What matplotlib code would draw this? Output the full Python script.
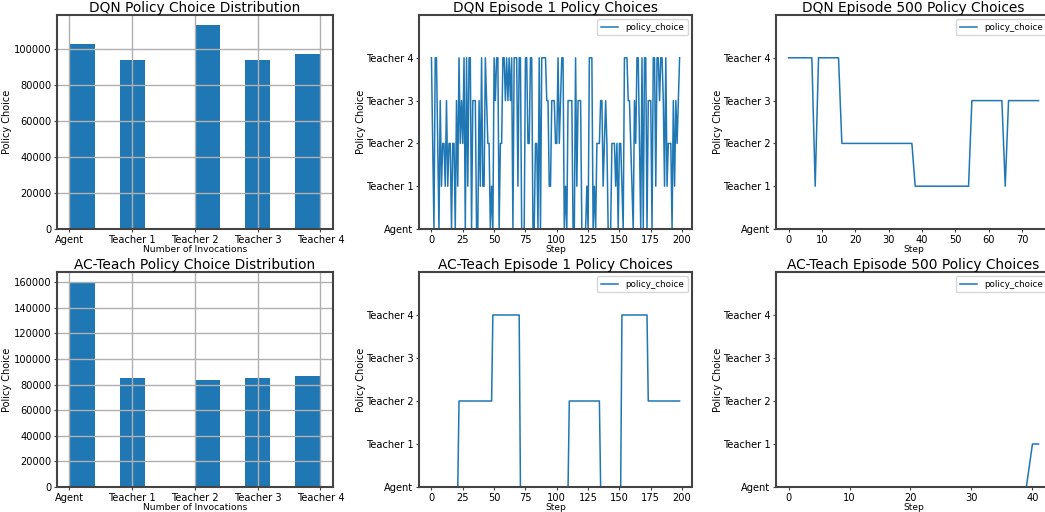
import numpy as np
import matplotlib
matplotlib.use('Agg')
from matplotlib import pyplot as plt
from matplotlib.ticker import MultipleLocator

policies = ['Agent', 'Teacher 1', 'Teacher 2', 'Teacher 3', 'Teacher 4']

# number of invocations of each policy over training
dqn_counts = [102600, 93700, 113100, 93700, 97000]
ac_counts = [160000, 85200, 83700, 85200, 86800]

# policy choice per step (0 = Agent, 1..4 = Teacher 1..4)
dqn_ep1 = [4, 2, 0, 4, 4, 2, 0, 3, 1, 2, 2, 1, 3, 1, 2, 2, 0, 2, 2, 0,
           3, 1, 4, 2, 3, 2, 4, 0, 4, 1, 4, 4, 0, 3, 3, 3, 0, 0, 3, 1,
           4, 1, 1, 4, 3, 2, 2, 0, 1, 0, 4, 3, 4, 4, 0, 2, 2, 4, 4, 3,
           4, 3, 4, 3, 4, 0, 4, 4, 4, 1, 4, 4, 0, 0, 0, 4, 4, 2, 2, 4,
           4, 0, 0, 2, 2, 0, 4, 0, 4, 4, 4, 4, 3, 3, 1, 1, 3, 3, 3, 2,
           2, 4, 2, 3, 4, 4, 0, 1, 0, 3, 3, 3, 3, 0, 0, 4, 1, 3, 3, 3,
           0, 0, 0, 0, 1, 0, 4, 4, 4, 0, 1, 0, 2, 2, 2, 3, 3, 1, 2, 3,
           2, 0, 0, 0, 2, 2, 2, 1, 2, 0, 2, 2, 1, 0, 4, 4, 4, 3, 3, 2,
           1, 0, 3, 2, 4, 4, 2, 0, 4, 0, 4, 4, 0, 3, 3, 3, 0, 4, 4, 1,
           4, 4, 3, 4, 4, 3, 1, 4, 1, 2, 2, 2, 0, 3, 1, 3, 2, 3, 4]
dqn_ep500 = [4, 4, 4, 4, 4, 4, 4, 4, 1, 4, 4, 4, 4, 4, 4, 4, 2, 2, 2, 2,
             2, 2, 2, 2, 2, 2, 2, 2, 2, 2, 2, 2, 2, 2, 2, 2, 2, 2, 1, 1,
             1, 1, 1, 1, 1, 1, 1, 1, 1, 1, 1, 1, 1, 1, 1, 3, 3, 3, 3, 3,
             3, 3, 3, 3, 3, 1, 3, 3, 3, 3, 3, 3, 3, 3, 3, 3]
ac_ep1 = [0] * 22 + [2] * 27 + [4] * 22 + [0] * 39 + [2] * 25 + [0] * 17 + [4] * 21 + [2] * 26
ac_ep500 = [0] * 40 + [1, 1]

blue = '#1f77b4'
spine_c = '#444444'

fig = plt.figure(figsize=(10.45, 5.12), dpi=100)

col_left = [0.0545, 0.401, 0.7426]
col_w = [0.2641, 0.2612, 0.2632]
row_bottom = [0.5527, 0.0488]
row_h = [0.418, 0.42]


def style(ax):
    for s in ax.spines.values():
        s.set_color(spine_c)
        s.set_linewidth(1.5)
    ax.tick_params(labelsize=7.1, length=2.5, pad=1.5, color=spine_c)


def hist_panel(ax, counts, title):
    ax.hist(range(len(policies)), bins=10, range=(0, 4), weights=counts, color=blue)
    ax.grid(True, color='#b0b0b0', linewidth=1)
    ax.set_xticks(range(len(policies)))
    ax.set_xticklabels(policies)
    ax.set_title(title, fontsize=9.9, pad=1)
    ax.set_xlabel('Number of Invocations', fontsize=6.6, labelpad=0)
    ax.set_ylabel('Policy Choice', fontsize=7, labelpad=1)
    style(ax)


def line_panel(ax, choices, title, step_tick):
    ax.plot(range(len(choices)), choices, color=blue, linewidth=1.1, label='policy_choice')
    ax.set_ylim(0, 5)
    ax.set_yticks(range(len(policies)))
    ax.set_yticklabels(policies)
    ax.xaxis.set_major_locator(MultipleLocator(step_tick))
    ax.set_title(title, fontsize=9.9, pad=1)
    ax.set_xlabel('Step', fontsize=6.6, labelpad=0)
    ax.set_ylabel('Policy Choice', fontsize=7, labelpad=0)
    ax.legend(loc='upper right', fontsize=6.3)
    style(ax)


ax1 = fig.add_axes([col_left[0], row_bottom[0], col_w[0], row_h[0]])
hist_panel(ax1, dqn_counts, 'DQN Policy Choice Distribution')
ax2 = fig.add_axes([col_left[1], row_bottom[0], col_w[1], row_h[0]])
line_panel(ax2, dqn_ep1, 'DQN Episode 1 Policy Choices', 25)
ax3 = fig.add_axes([col_left[2], row_bottom[0], col_w[2], row_h[0]])
line_panel(ax3, dqn_ep500, 'DQN Episode 500 Policy Choices', 10)

ax4 = fig.add_axes([col_left[0], row_bottom[1], col_w[0], row_h[1]])
hist_panel(ax4, ac_counts, 'AC-Teach Policy Choice Distribution')
ax5 = fig.add_axes([col_left[1], row_bottom[1], col_w[1], row_h[1]])
line_panel(ax5, ac_ep1, 'AC-Teach Episode 1 Policy Choices', 25)
ax6 = fig.add_axes([col_left[2], row_bottom[1], col_w[2], row_h[1]])
line_panel(ax6, ac_ep500, 'AC-Teach Episode 500 Policy Choices', 10)

fig.savefig('out.png', dpi=100)
